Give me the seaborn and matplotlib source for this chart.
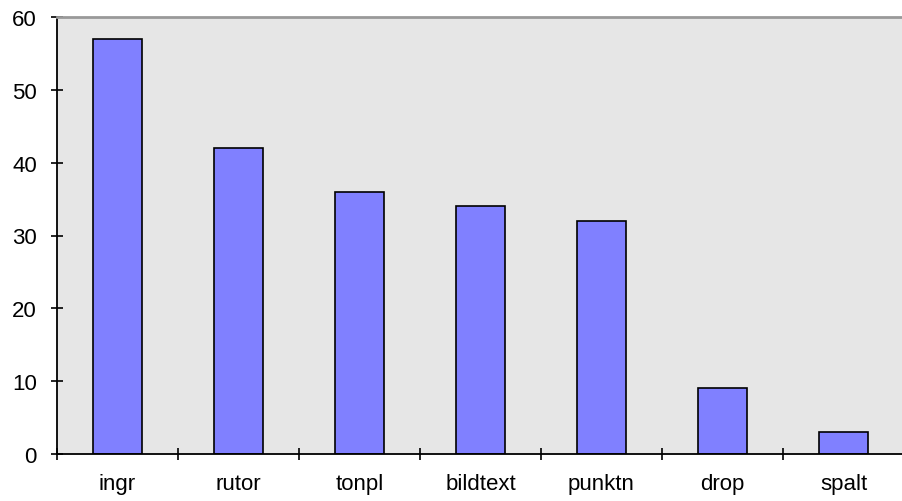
import pandas as pd
import matplotlib
matplotlib.use("Agg")
import matplotlib.pyplot as plt
import seaborn as sns
from matplotlib.ticker import FixedLocator

# chart data
categories = ["ingr", "rutor", "tonpl", "bildtext", "punktn", "drop", "spalt"]
counts = [57, 42, 36, 34, 32, 9, 3]

BAR_COLOR = "#8080ff"
BG_COLOR = "#e6e6e6"

df = pd.DataFrame({"category": categories, "count": counts})

sns.set_style("white")
plt.rcParams["font.family"] = ["Liberation Sans", "DejaVu Sans"]

fig = plt.figure(figsize=(9.03, 5.02), dpi=100)
ax = fig.add_axes([57 / 903, 47 / 502, 847 / 903, 437 / 502])
ax.set_facecolor(BG_COLOR)

sns.barplot(data=df, x="category", y="count", color=BAR_COLOR,
            width=0.4, edgecolor="black", linewidth=1.2, saturation=1, ax=ax)

ax.set_xlim(-0.5, len(categories) - 0.5)
ax.set_ylim(0, 60)
ax.set_yticks(range(0, 61, 10))
ax.set_xlabel("")
ax.set_ylabel("")

# category boundaries get the tick marks, labels sit in the middle
ax.xaxis.set_minor_locator(FixedLocator([i - 0.5 for i in range(len(categories) + 1)]))
ax.tick_params(axis="x", which="major", length=0, pad=14, labelsize=16, labelcolor="black")
ax.tick_params(axis="x", which="minor", bottom=True, direction="inout", length=9,
               width=1.2, color="black")
ax.tick_params(axis="y", direction="inout", length=9, width=1.2, color="black",
               labelsize=16, labelcolor="black", pad=10, left=True)

for side in ["left", "bottom"]:
    ax.spines[side].set_color("black")
    ax.spines[side].set_linewidth(1.3)
ax.spines["top"].set_color("#999999")
ax.spines["top"].set_linewidth(2)
ax.spines["right"].set_visible(False)

fig.savefig("out.png", dpi=100)
